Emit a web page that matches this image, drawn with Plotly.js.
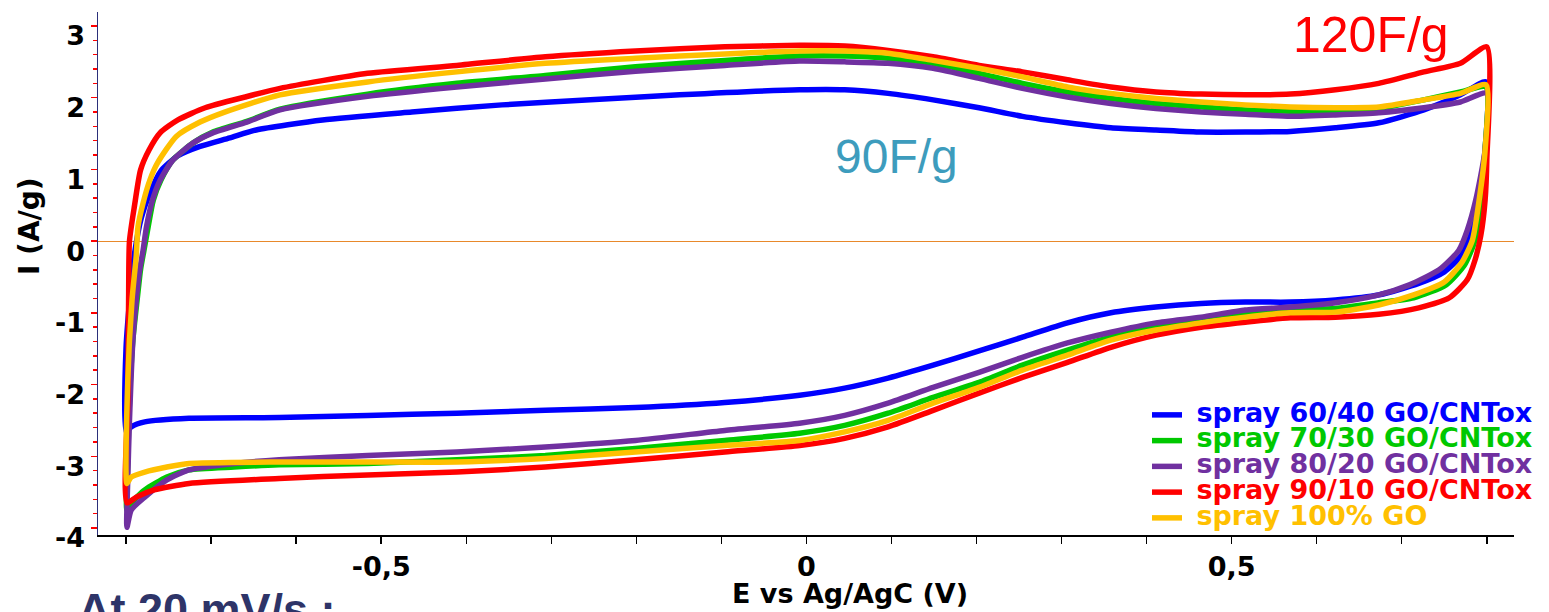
<!DOCTYPE html>
<html>
<head>
<meta charset="utf-8">
<script src="https://cdn.plot.ly/plotly-3.0.1.min.js"></script>
<style>
  html, body { margin: 0; padding: 0; background: #ffffff; }
  #chart { width: 1549px; height: 612px; }
</style>
</head>
<body>
<div id="chart"></div>
<script>
// ---------- data (E in V, I in A/g) ----------
const seriesNames = [
  'spray 60/40 GO/CNTox',
  'spray 70/30 GO/CNTox',
  'spray 80/20 GO/CNTox',
  'spray 90/10 GO/CNTox',
  'spray 100% GO'
];
const seriesColors = ['#0000ff', '#00c800', '#7030a0', '#ff0000', '#ffc000'];

const E_6040 = [-0.800,-0.800,-0.794,-0.790,-0.782,-0.772,-0.759,-0.739,-0.713,-0.678,-0.647,-0.569,-0.464,-0.358,-0.254,-0.149,-0.008,0.045,0.096,0.149,0.203,0.254,0.307,0.358,0.411,0.464,0.516,0.569,0.622,0.673,0.726,0.769,0.799,
  0.798,0.791,0.781,0.770,0.750,0.720,0.673,
  0.622,0.569,0.516,0.464,0.411,0.358,0.307,0.254,0.203,0.149,0.096,0.045,-0.008,-0.096,-0.201,-0.307,-0.411,-0.516,-0.620,-0.726,-0.778,-0.794,-0.800];
const I_6040 = [-2.66,-1.49,-0.60,-0.17,0.33,0.67,0.98,1.19,1.32,1.44,1.55,1.69,1.80,1.90,1.97,2.04,2.11,2.11,2.06,1.97,1.86,1.74,1.65,1.58,1.55,1.52,1.52,1.53,1.58,1.65,1.83,2.04,2.22,
  1.27,0.57,0.08,-0.20,-0.43,-0.59,-0.75,
  -0.82,-0.85,-0.85,-0.87,-0.92,-1.00,-1.14,-1.34,-1.53,-1.73,-1.91,-2.05,-2.15,-2.25,-2.32,-2.36,-2.40,-2.43,-2.46,-2.47,-2.52,-2.59,-2.66];

const E_7030 = [-0.799,-0.798,-0.796,-0.792,-0.787,-0.783,-0.779,-0.774,-0.768,-0.759,-0.745,-0.721,-0.698,-0.658,-0.619,-0.516,-0.411,-0.307,-0.201,-0.096,-0.008,0.045,0.096,0.149,0.203,0.254,0.307,0.358,0.411,0.464,0.516,0.569,0.622,0.673,0.726,0.769,0.799,
  0.798,0.793,0.786,0.774,0.752,0.714,0.673,
  0.622,0.569,0.516,0.464,0.411,0.358,0.307,0.254,0.203,0.149,0.096,0.045,-0.008,-0.096,-0.201,-0.307,-0.411,-0.516,-0.620,-0.673,-0.726,-0.752,-0.778,-0.794,-0.799];
const I_7030 = [-3.75,-3.05,-2.22,-1.38,-0.82,-0.40,-0.13,0.20,0.57,0.85,1.13,1.37,1.52,1.67,1.84,2.05,2.20,2.31,2.43,2.52,2.58,2.58,2.55,2.48,2.34,2.20,2.08,1.99,1.92,1.87,1.83,1.81,1.81,1.85,1.97,2.08,2.15,
  1.27,0.57,0.01,-0.33,-0.61,-0.79,-0.86,
  -0.94,-0.96,-1.00,-1.07,-1.20,-1.34,-1.52,-1.73,-1.97,-2.18,-2.40,-2.57,-2.68,-2.78,-2.89,-2.99,-3.05,-3.10,-3.12,-3.15,-3.19,-3.29,-3.47,-3.65,-3.75];

const E_8020 = [-0.799,-0.798,-0.796,-0.792,-0.788,-0.784,-0.780,-0.776,-0.769,-0.760,-0.745,-0.721,-0.698,-0.658,-0.619,-0.516,-0.411,-0.307,-0.201,-0.096,-0.008,0.045,0.096,0.149,0.203,0.254,0.307,0.358,0.411,0.464,0.516,0.569,0.622,0.673,0.726,0.769,0.800,
  0.798,0.787,0.777,0.767,0.744,0.709,0.673,
  0.622,0.569,0.516,0.464,0.411,0.358,0.307,0.254,0.203,0.149,0.096,0.045,-0.008,-0.096,-0.201,-0.307,-0.411,-0.516,-0.620,-0.673,-0.726,-0.752,-0.778,-0.794,-0.799];
const I_8020 = [-3.99,-3.32,-2.50,-1.39,-0.82,-0.40,-0.13,0.20,0.57,0.85,1.13,1.37,1.51,1.66,1.83,2.02,2.15,2.26,2.37,2.45,2.51,2.50,2.48,2.41,2.27,2.13,2.01,1.92,1.85,1.80,1.77,1.74,1.76,1.79,1.86,1.94,2.06,
  1.27,0.57,0.15,-0.13,-0.40,-0.61,-0.75,
  -0.86,-0.92,-0.96,-1.06,-1.14,-1.27,-1.42,-1.62,-1.83,-2.04,-2.26,-2.43,-2.54,-2.64,-2.78,-2.87,-2.94,-2.99,-3.05,-3.10,-3.19,-3.33,-3.57,-3.75,-3.99];

const E_9010 = [-0.799,-0.798,-0.797,-0.796,-0.790,-0.783,-0.773,-0.760,-0.739,-0.707,-0.660,-0.619,-0.516,-0.411,-0.307,-0.201,-0.096,-0.008,0.045,0.096,0.149,0.203,0.254,0.307,0.358,0.411,0.464,0.516,0.569,0.622,0.673,0.726,0.769,0.800,
  0.800,0.798,0.793,0.786,0.777,0.756,0.720,0.673,
  0.622,0.569,0.516,0.464,0.411,0.358,0.307,0.254,0.203,0.149,0.096,0.045,-0.008,-0.096,-0.201,-0.307,-0.411,-0.516,-0.620,-0.726,-0.767,-0.788,-0.799];
const I_9010 = [-3.65,-2.22,-0.82,0.00,0.50,0.99,1.27,1.51,1.69,1.86,2.01,2.13,2.34,2.45,2.57,2.65,2.71,2.73,2.72,2.66,2.57,2.45,2.36,2.25,2.15,2.08,2.05,2.04,2.05,2.11,2.20,2.36,2.48,2.71,
  1.13,0.57,0.08,-0.27,-0.54,-0.79,-0.93,-1.02,
  -1.06,-1.07,-1.13,-1.20,-1.31,-1.48,-1.69,-1.90,-2.12,-2.36,-2.59,-2.75,-2.85,-2.94,-3.05,-3.15,-3.22,-3.26,-3.31,-3.38,-3.47,-3.57,-3.65];

const E_100 = [-0.799,-0.798,-0.793,-0.788,-0.786,-0.780,-0.772,-0.763,-0.741,-0.713,-0.684,-0.619,-0.516,-0.411,-0.307,-0.201,-0.096,-0.008,0.045,0.096,0.149,0.203,0.254,0.307,0.358,0.411,0.464,0.516,0.569,0.622,0.673,0.726,0.769,0.799,
  0.798,0.791,0.783,0.771,0.750,0.714,0.673,
  0.622,0.569,0.516,0.464,0.411,0.358,0.307,0.254,0.203,0.149,0.096,0.045,-0.008,-0.096,-0.201,-0.307,-0.411,-0.516,-0.620,-0.726,-0.752,-0.778,-0.794,-0.799];
const I_100 = [-3.38,-1.94,-0.82,-0.20,0.20,0.53,0.85,1.09,1.46,1.66,1.80,2.04,2.22,2.36,2.48,2.55,2.61,2.65,2.65,2.62,2.52,2.41,2.29,2.15,2.06,1.99,1.94,1.90,1.87,1.86,1.87,1.97,2.06,2.18,
  1.27,0.57,0.01,-0.29,-0.57,-0.75,-0.89,
  -0.99,-1.00,-1.06,-1.14,-1.24,-1.38,-1.59,-1.80,-2.04,-2.26,-2.50,-2.66,-2.78,-2.85,-2.94,-3.03,-3.08,-3.08,-3.08,-3.10,-3.15,-3.22,-3.29,-3.38];

const seriesE = [E_6040, E_7030, E_8020, E_9010, E_100];
const seriesI = [I_6040, I_7030, I_8020, I_9010, I_100];

const xTickVals = [-0.5, 0, 0.5];
const xTickText = ['-0,5', '0', '0,5'];
const yTickVals = [-4, -3, -2, -1, 0, 1, 2, 3];
const yTickText = ['-4', '-3', '-2', '-1', '0', '1', '2', '3'];

const xTitle = 'E vs Ag/AgC (V)';
const yTitle = 'I (A/g)';
const labelHigh = '120F/g';
const labelLow = '90F/g';
const footText = 'At 20 mV/s :';

// ---------- layout helpers (pixel -> paper) ----------
const PL = 98, PR = 1515, PT = 12, PB = 535;
const px = p => (p - PL) / (PR - PL);
const py = p => (PB - p) / (PB - PT);

const traces = seriesNames.map((nm, i) => ({
  type: 'scatter',
  mode: 'lines',
  x: seriesE[i],
  y: seriesI[i],
  name: '<span style="color:' + seriesColors[i] + ';font-size:27px">&nbsp;' + nm + '</span>',
  line: { color: seriesColors[i], width: 5.5, shape: 'spline', smoothing: 0.6 },
  hoverinfo: 'x+y'
}));

const boldFont = { family: 'DejaVu Sans, sans-serif', size: 27, weight: 'bold', color: '#000000' };

const layout = {
  width: 1549,
  height: 612,
  margin: { l: PL, r: 1549 - PR, t: PT, b: 612 - PB, pad: 0 },
  paper_bgcolor: '#ffffff',
  plot_bgcolor: '#ffffff',
  showlegend: true,
  legend: {
    x: px(1147), y: py(397), xanchor: 'left', yanchor: 'top',
    bgcolor: 'rgba(0,0,0,0)', borderwidth: 0,
    font: { family: 'DejaVu Sans, sans-serif', size: 17.5, weight: 'bold', color: '#000000' },
    itemwidth: 30, tracegroupgap: 0
  },
  xaxis: {
    range: [-0.833, 0.832],
    tickmode: 'array', tickvals: xTickVals, ticktext: xTickText,
    ticks: 'outside', ticklen: 7, tickwidth: 1.5, tickcolor: '#000000',
    minor: { dtick: 0.1, tick0: 0, ticks: 'outside', ticklen: 7, tickwidth: 1.5, tickcolor: '#000000', showgrid: false },
    showline: true, linecolor: '#000000', linewidth: 1.5,
    showgrid: false, zeroline: false,
    tickfont: boldFont,
    fixedrange: true
  },
  yaxis: {
    range: [-4.098, 3.195],
    tickmode: 'array', tickvals: yTickVals, ticktext: yTickText,
    ticks: 'outside', ticklen: 6, tickwidth: 1.5, tickcolor: '#ff0000',
    minor: { dtick: 0.2, tick0: 0, ticks: 'outside', ticklen: 4, tickwidth: 1.5, tickcolor: '#ff0000', showgrid: false },
    showline: true, linecolor: '#2b2f7a', linewidth: 1.5,
    showgrid: false,
    zeroline: true, zerolinecolor: '#e8892b', zerolinewidth: 1,
    tickfont: boldFont,
    ticklabelshift: 10,
    fixedrange: true
  },
  annotations: [
    { text: xTitle, xref: 'paper', yref: 'paper', x: px(851), y: py(593), xanchor: 'center', yanchor: 'middle',
      showarrow: false, font: { family: 'DejaVu Sans, sans-serif', size: 27, weight: 'bold', color: '#000000' } },
    { text: yTitle, xref: 'paper', yref: 'paper', x: px(29), y: py(226), xanchor: 'center', yanchor: 'middle',
      textangle: -90, showarrow: false, font: { family: 'DejaVu Sans, sans-serif', size: 28, weight: 'bold', color: '#000000' } },
    { text: labelHigh, xref: 'paper', yref: 'paper', x: px(1372), y: py(35), xanchor: 'center', yanchor: 'middle',
      showarrow: false, font: { family: 'Liberation Sans, Arial, sans-serif', size: 50, color: '#ff0000' } },
    { text: labelLow, xref: 'paper', yref: 'paper', x: px(897), y: py(156), xanchor: 'center', yanchor: 'middle',
      showarrow: false, font: { family: 'Liberation Sans, Arial, sans-serif', size: 48, color: '#3d9cbd' } },
    { text: footText, xref: 'paper', yref: 'paper', x: px(76), y: py(582), xanchor: 'left', yanchor: 'top',
      showarrow: false, font: { family: 'Liberation Sans, Arial, sans-serif', size: 45, weight: 'bold', color: '#2e3468' } }
  ]
};

Plotly.newPlot('chart', traces, layout, { displayModeBar: false, staticPlot: true });
</script>
</body>
</html>
